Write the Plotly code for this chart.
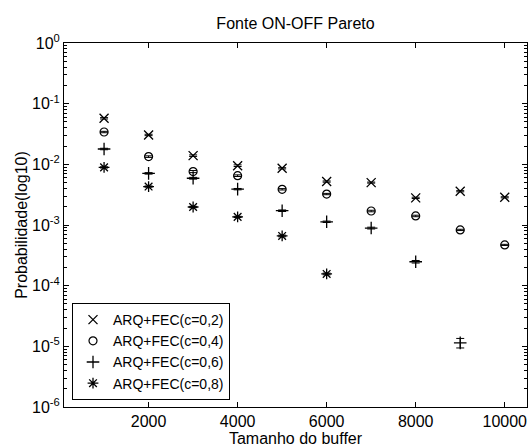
import plotly.graph_objects as go

buffer_sizes = [1000, 2000, 3000, 4000, 5000, 6000, 7000, 8000, 9000, 10000]

prob_c02 = [0.0574, 0.0305, 0.0139, 0.0095, 0.0086, 0.0052, 0.0050, 0.0028, 0.0036, 0.00286]
err_c02 = [0.0015, 0.0008, 0.0004, 0.0003, 0.0002, 0.00012, 0.0001, 0.00007, 0.00008, 0.00006]

prob_c04 = [0.0341, 0.0134, 0.0076, 0.0065, 0.00388, 0.00324, 0.0017, 0.00141, 0.00083, 0.00047]
err_c04 = [0.0009, 0.0004, 0.0003, 0.0002, 0.0001, 0.00008, 0.00005, 0.00004, 0.00002, 0.00001]

buffer_c06 = [1000, 2000, 3000, 4000, 5000, 6000, 7000, 8000, 9000]
prob_c06 = [0.0179, 0.0071, 0.0059, 0.0039, 0.00172, 0.00113, 0.00089, 0.000248, 0.0000114]
err_c06_plus = [0.0005, 0.0002, 0.0002, 0.0001, 0.00005, 0.00003, 0.00003, 0.000012, 0.0000021]
err_c06_minus = [0.0005, 0.0002, 0.0002, 0.0001, 0.00005, 0.00003, 0.00003, 0.000012, 0.0000020]

buffer_c08 = [1000, 2000, 3000, 4000, 5000, 6000]
prob_c08 = [0.0089, 0.0043, 0.00198, 0.00136, 0.00066, 0.000156]
err_c08 = [0.0002, 0.0001, 0.00005, 0.00003, 0.00002, 0.000005]

series_names = ["ARQ+FEC(c=0,2)", "ARQ+FEC(c=0,4)", "ARQ+FEC(c=0,6)", "ARQ+FEC(c=0,8)"]

y_tick_vals = [1e-6, 1e-5, 1e-4, 1e-3, 1e-2, 1e-1, 1e0]
y_tick_text = ["10<sup>-6</sup>", "10<sup>-5</sup>", "10<sup>-4</sup>", "10<sup>-3</sup>",
               "10<sup>-2</sup>", "10<sup>-1</sup>", "10<sup>0</sup>"]
x_tick_vals = [2000, 4000, 6000, 8000, 10000]
x_tick_text = ["2000", "4000", "6000", "8000", "10000"]

minor_vals = [m * 10.0 ** e for e in range(-6, 0) for m in range(2, 10)]

FONT = "Liberation Sans, Arial, sans-serif"

def err(plus, minus=None):
    d = dict(type="data", array=plus, symmetric=minus is None, color="black",
             thickness=1, width=4)
    if minus is not None:
        d["arrayminus"] = minus
    return d

fig = go.Figure()
fig.add_trace(go.Scatter(x=buffer_sizes, y=prob_c02, mode="markers", name=series_names[0],
                         error_y=err(err_c02),
                         marker=dict(symbol="x-thin-open", size=9, color="black",
                                     line=dict(color="black", width=1.3))))
fig.add_trace(go.Scatter(x=buffer_sizes, y=prob_c04, mode="markers", name=series_names[1],
                         error_y=err(err_c04),
                         marker=dict(symbol="circle-open", size=8, color="black",
                                     line=dict(color="black", width=1.2))))
fig.add_trace(go.Scatter(x=buffer_c06, y=prob_c06, mode="markers", name=series_names[2],
                         error_y=err(err_c06_plus, err_c06_minus),
                         marker=dict(symbol="cross-thin-open", size=9, color="black",
                                     line=dict(color="black", width=1.3))))
fig.add_trace(go.Scatter(x=buffer_c08, y=prob_c08, mode="markers", name=series_names[3],
                         error_y=err(err_c08),
                         marker=dict(symbol="asterisk-open", size=9, color="black",
                                     line=dict(color="black", width=1.3))))

axis_common = dict(showline=True, linecolor="black", linewidth=1, mirror="ticks",
                   ticks="inside", ticklen=5, tickcolor="black", showgrid=False,
                   zeroline=False, automargin=False,
                   tickfont=dict(family=FONT, size=16, color="black"))

fig.update_layout(
    width=530, height=448,
    margin=dict(l=64, r=3, t=43, b=41),
    paper_bgcolor="white", plot_bgcolor="white",
    font=dict(family=FONT, size=16, color="black"),
    hovermode=False,
    title=dict(text="Fonte ON-OFF Pareto", x=0.5, xref="paper", xanchor="center",
               y=1 - 23 / 448, yref="container", yanchor="middle",
               font=dict(family=FONT, size=16, color="black")),
    xaxis=dict(range=[100, 10500], tickmode="array", tickvals=x_tick_vals,
               ticktext=x_tick_text,
               title=dict(text="Tamanho do buffer", standoff=0,
                          font=dict(family=FONT, size=16)),
               **axis_common),
    yaxis=dict(type="log", range=[-6, 0], tickmode="array", tickvals=y_tick_vals,
               ticktext=y_tick_text,
               minor=dict(tickmode="array", tickvals=minor_vals, ticks="inside",
                          ticklen=3, tickcolor="black", showgrid=False),
               title=dict(text="Probabilidade(log10)", standoff=0,
                          font=dict(family=FONT, size=16)),
               **axis_common),
    legend=dict(x=(72 - 64) / 463, y=(407 - 400) / 364, xanchor="left", yanchor="bottom",
                bgcolor="white", bordercolor="black", borderwidth=1,
                font=dict(family=FONT, size=14, color="black"),
                itemwidth=30, tracegroupgap=0),
    showlegend=True,
)

fig.write_html("out.html", config={"displayModeBar": False},
               post_script="document.body.style.margin='0';")
